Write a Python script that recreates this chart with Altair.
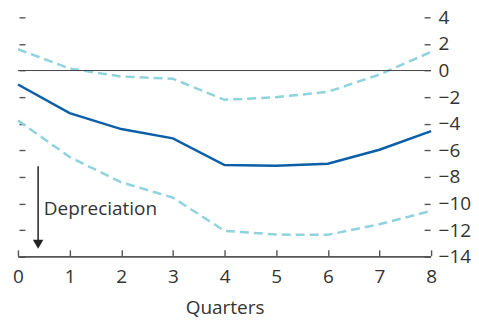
import altair as alt
import pandas as pd

quarters = [0, 1, 2, 3, 4, 5, 6, 7, 8]
central = [-1.05, -3.2, -4.4, -5.1, -7.1, -7.15, -7.0, -5.95, -4.55]
upper = [1.6, 0.15, -0.45, -0.62, -2.2, -2.0, -1.6, -0.3, 1.4]
lower = [-3.75, -6.5, -8.4, -9.55, -12.05, -12.33, -12.35, -11.55, -10.55]
y_ticks = [4, 2, 0, -2, -4, -6, -8, -10, -12, -14]
x_ticks = quarters

font = "Open Sans"
fsize = 19
text_color = "#333333"
tick_color = "#555555"

rows = []
for q, c, u, l in zip(quarters, central, upper, lower):
    rows.append({"q": q, "v": c, "s": "central"})
    rows.append({"q": q, "v": u, "s": "upper"})
    rows.append({"q": q, "v": l, "s": "lower"})
df = pd.DataFrame(rows)

xs = alt.Scale(domain=[0, 8], nice=False, zero=False)
ys = alt.Scale(domain=[-14, 4], nice=False, zero=False)

x_axis = alt.Axis(values=x_ticks, orient="bottom", domain=False, offset=-7, tickSize=6,
                  tickColor=tick_color, tickWidth=1.4, labelPadding=12, labelFontSize=fsize,
                  labelFont=font, labelColor=text_color, grid=False, title="Quarters",
                  labelFlush=False,
                  titleFont=font, titleFontSize=fsize, titleFontWeight="normal",
                  titleColor=text_color, titlePadding=12)
y_axis = alt.Axis(values=y_ticks, orient="right", domain=False, offset=-7, tickSize=6,
                  tickColor=tick_color, tickWidth=1.4, labelPadding=8, labelFontSize=fsize,
                  labelFlush=False,
                  labelFont=font, labelColor=text_color, grid=False, title=None)
y_left = alt.Axis(values=y_ticks, orient="left", domain=False, offset=-7, tickSize=6,
                  tickColor=tick_color, tickWidth=1.4, labels=False, grid=False, title=None)


def X(field):
    return alt.X(field, type="quantitative", scale=xs, axis=x_axis)


def Y(field, axis=None):
    return alt.Y(field, type="quantitative", scale=ys, axis=axis)


base = alt.Chart(df)

bands = base.transform_filter(alt.datum.s != "central").mark_line(
    strokeWidth=2.5, strokeDash=[9, 5], color="#8fd3de"
).encode(
    x=X("q"),
    y=Y("v", y_axis),
    detail="s:N",
)

left_ticks = alt.Chart(pd.DataFrame({"v": y_ticks})).mark_point(opacity=0).encode(
    y=Y("v", y_left),
    x=alt.value(0),
)

central_line = base.transform_filter(alt.datum.s == "central").mark_line(
    strokeWidth=2.5, color="#0b5fa8"
).encode(x=X("q"), y=Y("v"))

zero_df = pd.DataFrame({"x0": [0], "x1": [8], "y": [0]})
zero_line = alt.Chart(zero_df).mark_rule(color="#444444", strokeWidth=1).encode(
    x=X("x0"), x2="x1", y=Y("y")
)
dom_df = pd.DataFrame({"x0": [0], "x1": [8], "y": [-14]})
domain_line = alt.Chart(dom_df).mark_rule(color=tick_color, strokeWidth=1.7).encode(
    x=X("x0"), x2="x1", y=Y("y")
)

arrow_df = pd.DataFrame({"x": [0.39], "y0": [-7.2], "y1": [-13.1]})
arrow_line = alt.Chart(arrow_df).mark_rule(color="#222222", strokeWidth=1.5).encode(
    x=X("x"), y=Y("y0"), y2="y1"
)
head_df = pd.DataFrame({"x": [0.39], "y": [-13.05]})
arrow_head = alt.Chart(head_df).mark_point(
    shape="triangle-down", filled=True, size=110, color="#222222", opacity=1
).encode(x=X("x"), y=Y("y"))

label_df = pd.DataFrame({"x": [0.5], "y": [-10.4], "t": ["Depreciation"]})
label = alt.Chart(label_df).mark_text(
    align="left", baseline="middle", font=font, fontSize=fsize, color=text_color
).encode(x=X("x"), y=Y("y"), text="t:N")

chart = alt.layer(
    bands, left_ticks, zero_line, domain_line, central_line, arrow_line, arrow_head, label
).resolve_scale(y="independent").properties(
    width=414, height=240,
    autosize=alt.AutoSizeParams(type="none"),
    padding={"left": 10, "top": 9, "right": 40, "bottom": 62},
).configure_view(stroke=None)

chart.save("out.html", embed_options={"renderer": "svg", "actions": False})
